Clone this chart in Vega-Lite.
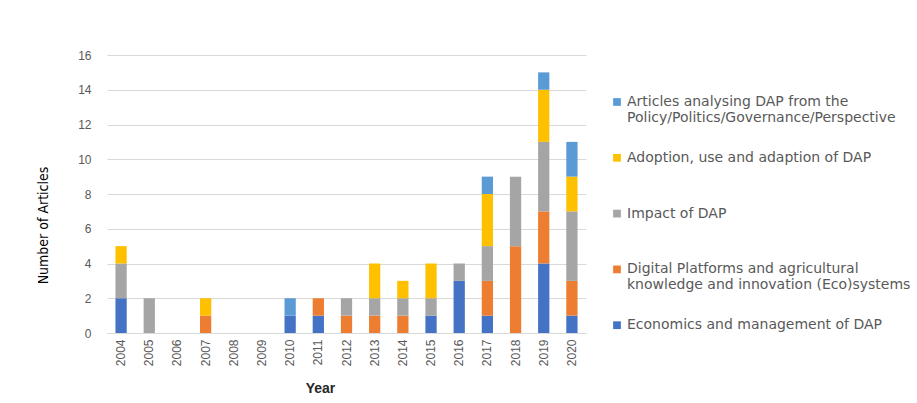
{
  "$schema": "https://vega.github.io/schema/vega-lite/v6.json",
  "autosize": "none",
  "width": 479,
  "height": 278,
  "padding": {"left": 107, "top": 55, "right": 331, "bottom": 70},
  "background": "white",
  "data": {
    "values": [
      {"year": "2004", "category": "Economics and management of DAP", "count": 2},
      {"year": "2004", "category": "Impact of DAP", "count": 2},
      {"year": "2004", "category": "Adoption, use and adaption of DAP", "count": 1},
      {"year": "2005", "category": "Impact of DAP", "count": 2},
      {"year": "2007", "category": "Digital Platforms and agricultural knowledge and innovation (Eco)systems", "count": 1},
      {"year": "2007", "category": "Adoption, use and adaption of DAP", "count": 1},
      {"year": "2010", "category": "Economics and management of DAP", "count": 1},
      {"year": "2010", "category": "Articles analysing DAP from the Policy/Politics/Governance/Perspective", "count": 1},
      {"year": "2011", "category": "Economics and management of DAP", "count": 1},
      {"year": "2011", "category": "Digital Platforms and agricultural knowledge and innovation (Eco)systems", "count": 1},
      {"year": "2012", "category": "Digital Platforms and agricultural knowledge and innovation (Eco)systems", "count": 1},
      {"year": "2012", "category": "Impact of DAP", "count": 1},
      {"year": "2013", "category": "Digital Platforms and agricultural knowledge and innovation (Eco)systems", "count": 1},
      {"year": "2013", "category": "Impact of DAP", "count": 1},
      {"year": "2013", "category": "Adoption, use and adaption of DAP", "count": 2},
      {"year": "2014", "category": "Digital Platforms and agricultural knowledge and innovation (Eco)systems", "count": 1},
      {"year": "2014", "category": "Impact of DAP", "count": 1},
      {"year": "2014", "category": "Adoption, use and adaption of DAP", "count": 1},
      {"year": "2015", "category": "Economics and management of DAP", "count": 1},
      {"year": "2015", "category": "Impact of DAP", "count": 1},
      {"year": "2015", "category": "Adoption, use and adaption of DAP", "count": 2},
      {"year": "2016", "category": "Economics and management of DAP", "count": 3},
      {"year": "2016", "category": "Impact of DAP", "count": 1},
      {"year": "2017", "category": "Economics and management of DAP", "count": 1},
      {"year": "2017", "category": "Digital Platforms and agricultural knowledge and innovation (Eco)systems", "count": 2},
      {"year": "2017", "category": "Impact of DAP", "count": 2},
      {"year": "2017", "category": "Adoption, use and adaption of DAP", "count": 3},
      {"year": "2017", "category": "Articles analysing DAP from the Policy/Politics/Governance/Perspective", "count": 1},
      {"year": "2018", "category": "Digital Platforms and agricultural knowledge and innovation (Eco)systems", "count": 5},
      {"year": "2018", "category": "Impact of DAP", "count": 4},
      {"year": "2019", "category": "Economics and management of DAP", "count": 4},
      {"year": "2019", "category": "Digital Platforms and agricultural knowledge and innovation (Eco)systems", "count": 3},
      {"year": "2019", "category": "Impact of DAP", "count": 4},
      {"year": "2019", "category": "Adoption, use and adaption of DAP", "count": 3},
      {"year": "2019", "category": "Articles analysing DAP from the Policy/Politics/Governance/Perspective", "count": 1},
      {"year": "2020", "category": "Economics and management of DAP", "count": 1},
      {"year": "2020", "category": "Digital Platforms and agricultural knowledge and innovation (Eco)systems", "count": 2},
      {"year": "2020", "category": "Impact of DAP", "count": 4},
      {"year": "2020", "category": "Adoption, use and adaption of DAP", "count": 2},
      {"year": "2020", "category": "Articles analysing DAP from the Policy/Politics/Governance/Perspective", "count": 2}
    ]
  },
  "transform": [
    {"calculate": "indexof(['Economics and management of DAP','Digital Platforms and agricultural knowledge and innovation (Eco)systems','Impact of DAP','Adoption, use and adaption of DAP','Articles analysing DAP from the Policy/Politics/Governance/Perspective'], datum.category)", "as": "stackOrder"}
  ],
  "mark": {"type": "bar"},
  "encoding": {
    "x": {
      "field": "year",
      "type": "ordinal",
      "scale": {
        "domain": ["2004","2005","2006","2007","2008","2009","2010","2011","2012","2013","2014","2015","2016","2017","2018","2019","2020"],
        "paddingInner": 0.6,
        "paddingOuter": 0.3
      },
      "axis": {
        "title": "Year",
        "titleFont": "Liberation Sans",
        "titleFontSize": 14,
        "titleFontWeight": "bold",
        "titleColor": "#262626",
        "titleX": 213,
        "titleY": 55,
        "titleBaseline": "middle",
        "labelAngle": -90,
        "labelFont": "Liberation Sans",
        "labelFontSize": 12,
        "labelColor": "#595959",
        "labelPadding": 6,
        "ticks": false,
        "domainColor": "#D9D9D9",
        "grid": false
      }
    },
    "y": {
      "field": "count",
      "type": "quantitative",
      "aggregate": "sum",
      "stack": "zero",
      "scale": {"domain": [0, 16], "nice": false},
      "axis": {
        "title": "Number of Articles",
        "titleFont": "DejaVu Sans Condensed, Liberation Sans",
        "titleFontSize": 14,
        "titleFontWeight": "normal",
        "titleColor": "#000000",
        "titleAngle": -90,
        "titleX": -64,
        "titleY": 170,
        "titleBaseline": "middle",
        "values": [0, 2, 4, 6, 8, 10, 12, 14, 16],
        "labelFont": "Liberation Sans",
        "labelFontSize": 12,
        "labelColor": "#595959",
        "labelPadding": 16,
        "ticks": false,
        "domain": false,
        "gridColor": "#D9D9D9",
        "gridWidth": 1
      }
    },
    "color": {
      "field": "category",
      "type": "nominal",
      "scale": {
        "domain": ["Articles analysing DAP from the Policy/Politics/Governance/Perspective", "Adoption, use and adaption of DAP", "Impact of DAP", "Digital Platforms and agricultural knowledge and innovation (Eco)systems", "Economics and management of DAP"],
        "range": ["#5B9BD5", "#FFC000", "#A5A5A5", "#ED7D31", "#4472C4"]
      },
      "legend": {
        "title": null,
        "orient": "none",
        "legendX": 503,
        "legendY": 40,
        "symbolType": "square",
        "symbolSize": 60,
        "symbolStrokeWidth": 0,
        "labelFont": "DejaVu Sans",
        "labelFontSize": 14,
        "labelColor": "#595959",
        "labelLimit": 0,
        "labelOffset": 3,
        "rowPadding": 25.8,
        "labelExpr": "indexof(datum.label, 'Policy') >= 0 ? ['Articles analysing DAP from the', 'Policy/Politics/Governance/Perspective'] : indexof(datum.label, 'knowledge') >= 0 ? ['Digital Platforms and agricultural', 'knowledge and innovation (Eco)systems'] : [datum.label, ' ']"
      }
    },
    "order": {"field": "stackOrder", "type": "quantitative", "sort": "ascending"}
  },
  "config": {"view": {"stroke": null}}
}
